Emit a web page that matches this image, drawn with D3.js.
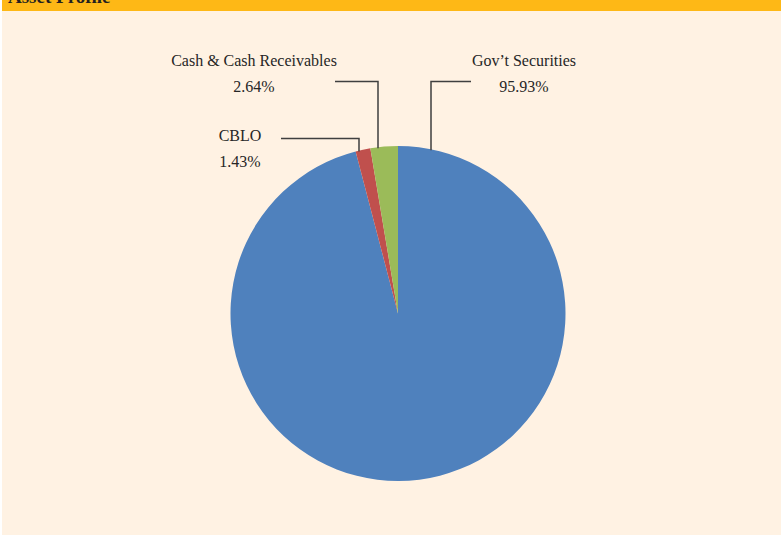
<!DOCTYPE html>
<html>
<head>
<meta charset="utf-8">
<script src="https://cdn.jsdelivr.net/npm/d3@7"></script>
<style>
  html, body { margin: 0; padding: 0; background: #fff; }
  svg { display: block; }
</style>
</head>
<body>
<script>
// asset profile data (percent of portfolio)
var names = ["Gov\u2019t Securities", "CBLO", "Cash & Cash Receivables"];
var shares = [95.93, 1.43, 2.64];
var colors = ["#4F81BD", "#C0504D", "#9BBB59"];

var width = 781, height = 535;
var cx = 398, cy = 313.5, r = 167.5;

// where each label sits and where its leader line bends
var labelPos = [
  { tx: 524, ty: 66, lx0: 471, ly: 81.5, lx1: 431 },
  { tx: 240, ty: 141, lx0: 281, ly: 138.5, lx1: 359 },
  { tx: 254, ty: 66, lx0: 335, ly: 81.5, lx1: 378 }
];

var svg = d3.select("body").append("svg")
  .attr("width", width)
  .attr("height", height);

svg.append("rect")
  .attr("x", 2).attr("y", 0)
  .attr("width", width - 2).attr("height", height)
  .style("fill", "#FFF2E3");

// header band, title cut by the top edge
svg.append("rect")
  .attr("x", 2).attr("y", 0)
  .attr("width", width - 2).attr("height", 11)
  .style("fill", "#FEB816");
svg.append("text")
  .attr("x", 8).attr("y", 3)
  .style("font-family", "'Liberation Serif', serif")
  .style("font-weight", "bold")
  .style("font-size", "19px")
  .style("fill", "#231f20")
  .text("Asset Profile");

var data = names.map(function(n, i) { return { name: n, value: shares[i], color: colors[i] }; });

var pie = d3.pie().sort(null).value(function(d) { return d.value; });
var arc = d3.arc().innerRadius(0).outerRadius(r);

var g = svg.append("g").attr("transform", "translate(" + cx + "," + cy + ")");
g.selectAll("path")
  .data(pie(data)).enter()
  .append("path")
  .attr("d", arc)
  .style("fill", function(d) { return d.data.color; });

// leader lines: horizontal from the label, then down to the pie edge
var lines = svg.append("g");
data.forEach(function(d, i) {
  var p = labelPos[i];
  var dx = p.lx1 - cx;
  var yEdge = cy - Math.sqrt(r * r - dx * dx) + 1;
  lines.append("path")
    .attr("d", "M" + p.lx0 + "," + p.ly + "H" + p.lx1 + "V" + yEdge)
    .style("fill", "none")
    .style("stroke", "#3f3f3f")
    .style("stroke-width", 1.5);

  var t = svg.append("text")
    .attr("text-anchor", "middle")
    .style("font-family", "'Liberation Serif', serif")
    .style("font-size", "16px")
    .style("fill", "#262626");
  t.append("tspan").attr("x", p.tx).attr("y", p.ty).text(d.name);
  t.append("tspan").attr("x", p.tx).attr("y", p.ty + 26).text(d3.format(".2f")(d.value) + "%");
});
</script>
</body>
</html>
